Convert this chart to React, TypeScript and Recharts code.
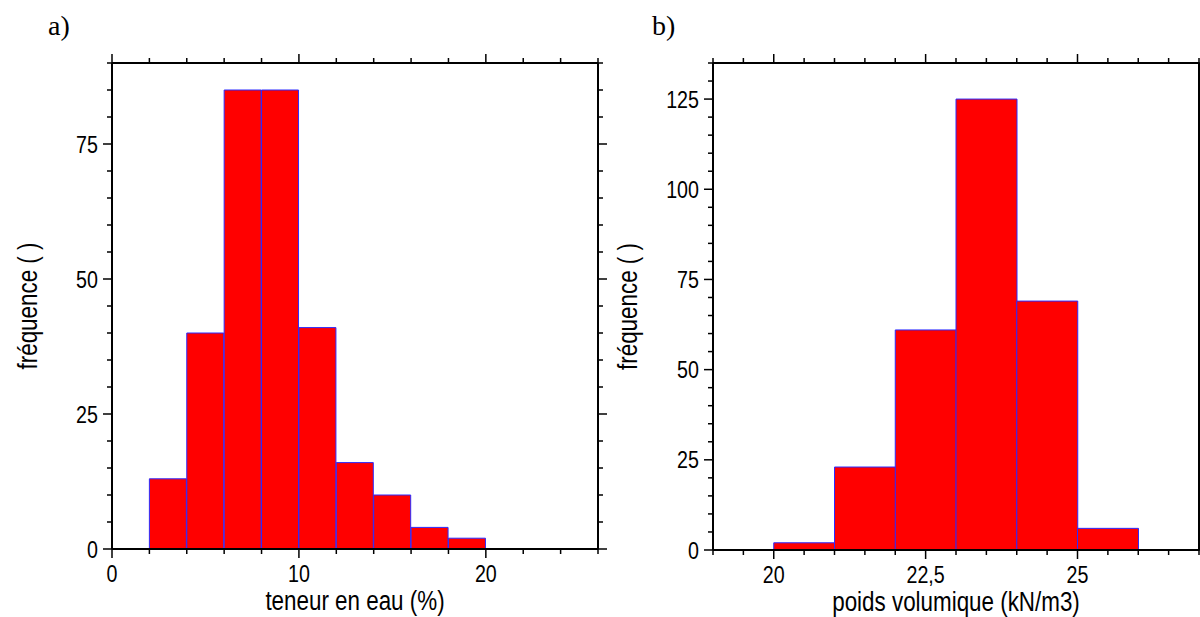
import { BarChart, Bar, XAxis, YAxis } from "recharts"

// a) teneur en eau, bins of 2 % (lower edge of each bin)
const binStartA = [0, 2, 4, 6, 8, 10, 12, 14, 16, 18, 20, 22, 24]
const countsA = [0, 13, 40, 85, 85, 41, 16, 10, 4, 2, 0, 0, 0]
const ticksXA = [0, 2, 4, 6, 8, 10, 12, 14, 16, 18, 20, 22, 24, 26]
const labelsXA = [0, 10, 20]
const ticksYA = [0, 5, 10, 15, 20, 25, 30, 35, 40, 45, 50, 55, 60, 65, 70, 75, 80, 85, 90]
const labelsYA = [0, 25, 50, 75]

// b) poids volumique, bins of 1 kN/m3
const binStartB = [19, 20, 21, 22, 23, 24, 25, 26]
const countsB = [0, 2, 23, 61, 125, 69, 6, 0]
const ticksXB = [19, 19.5, 20, 20.5, 21, 21.5, 22, 22.5, 23, 23.5, 24, 24.5, 25, 25.5, 26, 26.5, 27]
const labelsXB = [20, 22.5, 25]
const ticksYB = [0, 5, 10, 15, 20, 25, 30, 35, 40, 45, 50, 55, 60, 65, 70, 75, 80, 85, 90, 95, 100, 105, 110, 115, 120, 125, 130, 135]
const labelsYB = [0, 25, 50, 75, 100, 125]

const SANS = '"Liberation Sans", Arial, sans-serif'
const fmt = (v: number) => String(v).replace(".", ",")

// narrow-looking text: horizontal squeeze of a sans font
function NarrowText({ x, y, rotate = 0, size, squeeze, anchor, children }: any) {
    return (
        <text transform={`translate(${x} ${y}) rotate(${rotate}) scale(${squeeze} 1)`} textAnchor={anchor}
            fontFamily={SANS} fontSize={size} fill="#000">{children}</text>
    )
}

const tickFor = (side: "top" | "bottom" | "left" | "right", labels: number[]) => (p: any) => {
    const { x, y } = p
    const v = p.payload.value
    const major = labels.includes(v)
    const len = major ? 9 : 5
    let x2 = x, y2 = y
    if (side === "bottom") y2 = y + len
    if (side === "top") y2 = y - len
    if (side === "left") x2 = x - len
    if (side === "right") x2 = x + len
    return (
        <g>
            <line x1={x} y1={y} x2={x2} y2={y2} stroke="#000" strokeWidth={1.5} />
            {major && side === "bottom" && (
                <NarrowText x={x} y={y + 33} size={24} squeeze={0.82} anchor="middle">{fmt(v)}</NarrowText>
            )}
            {major && side === "left" && (
                <NarrowText x={x - 14} y={y + 8.5} size={24} squeeze={0.82} anchor="end">{fmt(v)}</NarrowText>
            )}
        </g>
    )
}

const yTitle = (title: string) => (p: any) => {
    const { y, height } = p.viewBox
    return <NarrowText x={37} y={y + height / 2} rotate={-90} size={28} squeeze={0.8} anchor="middle">{title}</NarrowText>
}

const xTitle = (title: string) => (p: any) => {
    const { x, y, width } = p.viewBox
    return <NarrowText x={x + width / 2} y={y + 61} size={28} squeeze={0.8} anchor="middle">{title}</NarrowText>
}

interface HistProps {
    starts: number[]
    counts: number[]
    xTicks: number[]
    xLabels: number[]
    yTicks: number[]
    yLabels: number[]
    xTitleText: string
    width: number
    leftW: number
    rightW: number
    bottomH: number
}

function Histogram({ starts, counts, xTicks, xLabels, yTicks, yLabels, xTitleText, width, leftW, rightW, bottomH }: HistProps) {
    const data = starts.map((s, i) => ({ lo: s, count: counts[i] }))
    const xDom: [number, number] = [xTicks[0], xTicks[xTicks.length - 1]]
    const yDom: [number, number] = [yTicks[0], yTicks[yTicks.length - 1]]
    const axisLine = { stroke: "#000", strokeWidth: 2 }
    return (
        <BarChart width={width} height={617} data={data} barCategoryGap={0} barGap={0}
            margin={{ top: 53, right: 0, bottom: 0, left: 0 }}>
            <XAxis xAxisId="cat" dataKey="lo" hide />
            <XAxis xAxisId="bottom" dataKey="lo" type="number" domain={xDom} ticks={xTicks} allowDataOverflow
                orientation="bottom" height={bottomH} interval={0} tickLine={false} tickSize={0} tickMargin={0}
                axisLine={axisLine} tick={tickFor("bottom", xLabels)} label={xTitle(xTitleText)} />
            <XAxis xAxisId="top" dataKey="lo" type="number" domain={xDom} ticks={xTicks} allowDataOverflow
                orientation="top" height={10} interval={0} tickLine={false} tickSize={0} tickMargin={0}
                axisLine={axisLine} tick={tickFor("top", xLabels)} />
            <YAxis yAxisId="left" type="number" domain={yDom} ticks={yTicks} allowDataOverflow
                width={leftW} interval={0} tickLine={false} tickSize={0} tickMargin={0}
                axisLine={axisLine} tick={tickFor("left", yLabels)} label={yTitle("fréquence ( )")} />
            <YAxis yAxisId="right" orientation="right" type="number" domain={yDom} ticks={yTicks} allowDataOverflow
                width={rightW} interval={0} tickLine={false} tickSize={0} tickMargin={0}
                axisLine={axisLine} tick={tickFor("right", yLabels)} />
            <Bar dataKey="count" xAxisId="cat" yAxisId="left" fill="#ff0000" stroke="#2b2bff" strokeWidth={1}
                isAnimationActive={false} />
        </BarChart>
    )
}

const panelLabel: React.CSSProperties = {
    position: "absolute", top: 10, fontFamily: '"Liberation Serif", "Times New Roman", serif', fontSize: 28, color: "#000",
}

export default function App() {
    return (
        <div style={{ position: "absolute", left: 0, top: 0, width: 1200, height: 617, background: "#fff", overflow: "hidden" }}>
            <div style={{ position: "absolute", left: 0, top: 0 }}>
                <Histogram starts={binStartA} counts={countsA} xTicks={ticksXA} xLabels={labelsXA}
                    yTicks={ticksYA} yLabels={labelsYA} xTitleText="teneur en eau (%)"
                    width={640} leftW={112} rightW={42} bottomH={68} />
            </div>
            <div style={{ position: "absolute", left: 600, top: 0 }}>
                <Histogram starts={binStartB} counts={countsB} xTicks={ticksXB} xLabels={labelsXB}
                    yTicks={ticksYB} yLabels={labelsYB} xTitleText="poids volumique (kN/m3)"
                    width={600} leftW={113} rightW={1} bottomH={67} />
            </div>
            <div style={{ ...panelLabel, left: 48 }}>a)</div>
            <div style={{ ...panelLabel, left: 652 }}>b)</div>
        </div>
    )
}
